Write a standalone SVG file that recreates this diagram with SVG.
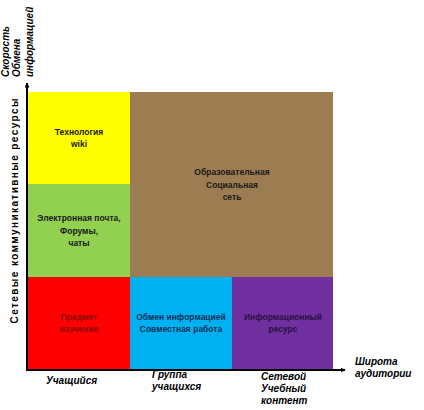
<svg xmlns="http://www.w3.org/2000/svg" width="424" height="410" viewBox="0 0 424 410">
<style>
.cell{font-family:"Liberation Sans",Arial,sans-serif;font-size:8.5px;font-weight:bold;text-anchor:middle;fill:#1a1a1a}
.ax{font-family:"Liberation Sans",Arial,sans-serif;font-size:10px;font-weight:bold;font-style:italic;fill:#000}
.axis{stroke:#000;stroke-width:2;fill:none}
</style>
<defs>
<marker id="arr" viewBox="0 0 10 10" refX="9" refY="5" markerWidth="5" markerHeight="5" orient="auto" markerUnits="userSpaceOnUse">
<path d="M0,0 L10,5 L0,10 z" fill="#000"/>
</marker>
</defs>
<rect width="424" height="410" fill="#fff"/>
<g id="wiki"><rect x="28" y="92" width="102" height="92" fill="#ffff00"/>
<text class="cell" x="79" y="135">Технология</text><text class="cell" x="79" y="147">wiki</text></g>
<g id="email"><rect x="28" y="184" width="102" height="93" fill="#92d050"/>
<text class="cell" x="79" y="221">Электронная почта,</text><text class="cell" x="79" y="234">Форумы,</text><text class="cell" x="79" y="246">чаты</text></g>
<g id="social"><rect x="130" y="92" width="203" height="185" fill="#9c7c50"/>
<text class="cell" x="232" y="175">Образовательная</text><text class="cell" x="232" y="188">Социальная</text><text class="cell" x="232" y="200">сеть</text></g>
<g id="subject"><rect x="28" y="277" width="102" height="92" fill="#ff0000"/>
<text class="cell" x="79" y="320" style="fill:#8a0a0a">Предмет</text><text class="cell" x="79" y="332" style="fill:#8a0a0a">изучение</text></g>
<g id="exchange"><rect x="130" y="277" width="102" height="92" fill="#00b0f0"/>
<text class="cell" x="181" y="320" style="fill:#10305a">Обмен информацией</text><text class="cell" x="181" y="332" style="fill:#10305a">Совместная работа</text></g>
<g id="resource"><rect x="232" y="277" width="101" height="92" fill="#7030a0"/>
<text class="cell" x="283" y="320" style="fill:#2a1040">Информационный</text><text class="cell" x="283" y="332" style="fill:#2a1040">ресурс</text></g>
<g id="connectors">
<line class="axis" x1="27" y1="371" x2="27" y2="83" marker-end="url(#arr)"/>
<line class="axis" x1="26" y1="370" x2="345" y2="370" marker-end="url(#arr)"/>
</g>
<g id="labels">
<text class="ax" transform="translate(9,77) rotate(-90)">Скорость</text>
<text class="ax" transform="translate(20,77) rotate(-90)">Обмена</text>
<text class="ax" transform="translate(33,77) rotate(-90)">информацией</text>
<text class="ax" style="font-style:normal" text-anchor="middle" textLength="225" lengthAdjust="spacing" transform="translate(18,211) rotate(-90)">Сетевые коммуникативные ресурсы</text>
<text class="ax" x="46" y="384">Учащийся</text>
<text class="ax" x="152" y="378">Группа</text>
<text class="ax" x="152" y="390">учащихся</text>
<text class="ax" x="261" y="380">Сетевой</text>
<text class="ax" x="261" y="392">Учебный</text>
<text class="ax" x="261" y="404">контент</text>
<text class="ax" x="355" y="365">Широта</text>
<text class="ax" x="355" y="377">аудитории</text>
</g>
</svg>
